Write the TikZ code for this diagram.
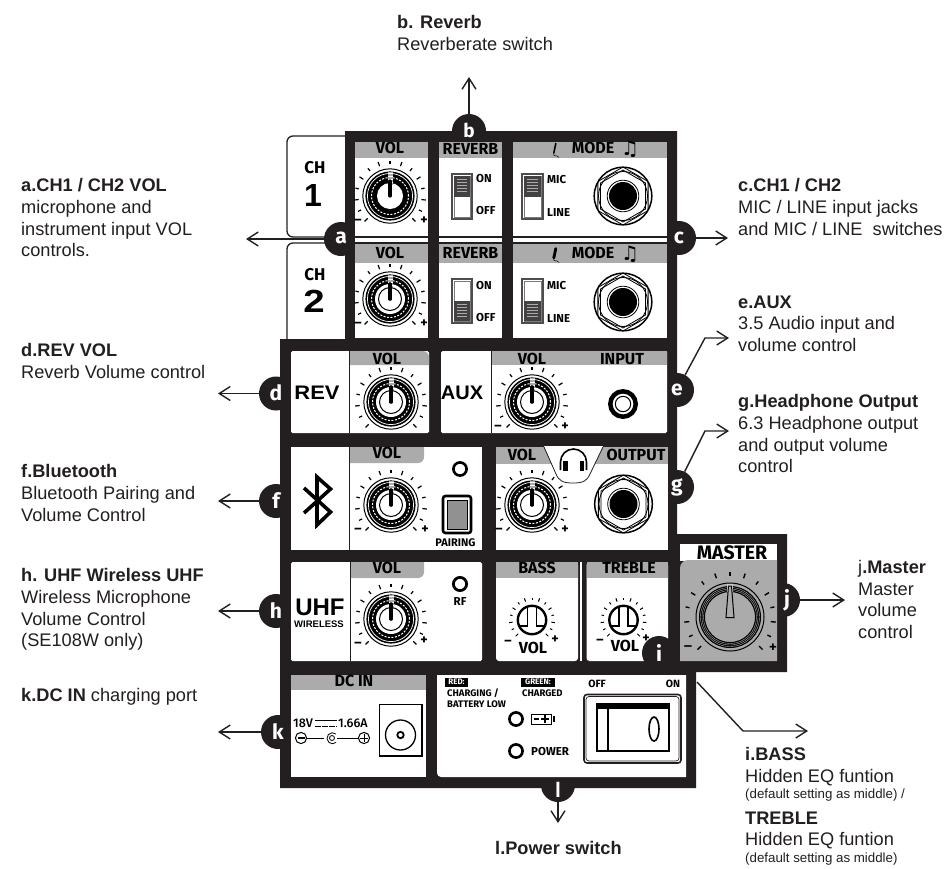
\documentclass[tikz,border=0pt]{standalone}
\usepackage{fontspec}
\usetikzlibrary{arrows.meta}
\setmainfont{Liberation Sans}
\newfontfamily\din{Fira Sans}[UprightFont=* Medium,BoldFont=* Bold]
\newfontfamily\djv{DejaVu Sans}
\definecolor{dk}{HTML}{231F20}
\definecolor{hd}{HTML}{ABABAB}
\tikzset{
  badge/.style={circle,fill=dk,minimum size=34pt,inner sep=0pt},
  bl/.style={inner sep=0pt,text=white,font=\din\bfseries\fontsize{21}{21}\selectfont},
  arr/.style={draw=dk,line width=1.4pt,-{Straight Barb[length=11pt,width=14pt,line width=1.4pt]}},
  lab/.style={anchor=north west,inner sep=0pt,align=left,text=dk,font=\fontsize{18.2}{21.6}\selectfont},
  labs/.style={anchor=north west,inner sep=0pt,align=left,text=dk,font=\fontsize{13.3}{16}\selectfont},
  hdr/.style={inner sep=0pt,text=black,font=\din\bfseries\fontsize{16}{16}\selectfont},
  sm/.style={inner sep=0pt,text=black,font=\din\bfseries\fontsize{11.5}{11.5}\selectfont},
  tiny/.style={inner sep=0pt,text=black,font=\din\bfseries\fontsize{9.5}{9.5}\selectfont},
  pm/.style={inner sep=0pt,text=black,font=\din\bfseries\fontsize{14}{14}\selectfont},
  blk/.style={inner sep=0pt,text=black,font=\bfseries\fontsize{19.6}{19.6}\selectfont},
  pan/.style={fill=white},
  gry/.style={fill=hd},
}
\newcommand{\tickring}[3]{%
  \foreach \ii in {0,...,14}{%
    \pgfmathsetmacro{\aa}{-45+\ii*270/14}%
    \pgfmathtruncatemacro{\odd}{mod(\ii,2)}%
    \ifnum\odd=0
      \draw[black,line width=#3pt] (\aa:#1) -- (\aa:#2);
    \else
      \draw[black,line width=#3pt] (\aa:#1+0.5) -- (\aa:#2-0.5);
    \fi}}
\newcommand{\knobc}[3]{%
  \begin{scope}[shift={(#1,#2)},y=1pt]
    \tickring{31.5}{36}{1.2}
    \draw[black,line width=1pt] (0,0) circle[radius=27.2];
    \fill[black] (0,0) circle[radius=24.6];
    \draw[white,line width=0.7pt] (0,0) circle[radius=22.6];
    \draw[white,line width=1pt,dash pattern=on 2pt off 1.5pt] (0,0) circle[radius=18.5];
    \fill[white] (0,0) circle[radius=#3];
    \fill[hd] (-2.5,11) rectangle (2.5,24.5);
    \foreach \yy in {14,17,20,23}{\draw[white,line width=0.6pt] (-2.5,\yy) -- (2.5,\yy);}
    \draw[black,line width=3.2pt,line cap=round] (0,0) -- (0,15);
  \end{scope}}
\newcommand{\knob}[2]{\knobc{#1}{#2}{13}}
\newcommand{\knobr}[2]{%
  \knobc{#1}{#2}{15}
  \begin{scope}[shift={(#1,#2)},y=1pt]
    \draw[black,line width=1pt] (0,0) circle[radius=11.5];
    \draw[black,line width=3.2pt,line cap=round] (0,0) -- (0,15);
  \end{scope}}
\newcommand{\smallknob}[2]{%
  \begin{scope}[shift={(#1,#2)},y=1pt]
    \tickring{19.5}{23}{1}
    \draw[black,line width=2.4pt,fill=white] (0,0) circle[radius=14.2];
    \draw[black,line width=1.4pt] (-4.5,13) -- (-4.5,-6) -- (-13,-6);
    \draw[black,line width=1.4pt] (4.5,13) -- (4.5,-6) -- (13,-6);
  \end{scope}}
\newcommand{\jack}[2]{%
  \begin{scope}[shift={(#1,#2)},y=1pt]
    \begin{scope}
      \clip (0,0) circle[radius=28.6];
      \draw[black,line width=0.8pt] (90:29)--(30:29)--(-30:29)--(-90:29)--(-150:29)--(150:29)--cycle;
      \draw[black,line width=0.8pt] (90:26)--(30:26)--(-30:26)--(-90:26)--(-150:26)--(150:26)--cycle;
    \end{scope}
    \draw[black,line width=1.5pt] (0,0) circle[radius=28.8];
    \draw[black,line width=0.8pt] (0,0) circle[radius=24.5];
    \draw[black,line width=0.8pt] (0,0) circle[radius=15.8];
    \fill[black] (0,0) circle[radius=14];
  \end{scope}}
\newcommand{\slider}[5]{%
  \fill[white] (#1,#2) rectangle (#3,#4);
  \draw[dk!80,line width=1.5pt] (#1,#2) rectangle (#3,#4);
  \draw[dk!60,line width=0.6pt] (#1+2,#2+2) rectangle (#3-2,#4-2);
  \pgfmathsetmacro{\ym}{(#2+#4)/2}%
  \ifnum#5=0
    \fill[dk!85] (#1+2,#2+2) rectangle (#3-2,\ym);
    \foreach \ff in {0.15,0.3,...,0.9}{\draw[hd,line width=0.8pt] (#1+5,{#2+2+\ff*(\ym-#2-2)}) -- (#3-5,{#2+2+\ff*(\ym-#2-2)});}
  \else
    \fill[dk!85] (#1+2,\ym) rectangle (#3-2,#4-2);
    \foreach \ff in {0.15,0.3,...,0.9}{\draw[hd,line width=0.8pt] (#1+5,{\ym+\ff*(#4-2-\ym)}) -- (#3-5,{\ym+\ff*(#4-2-\ym)});}
  \fi}
\newcommand{\led}[3]{\draw[black,line width=#3pt,fill=white] (#1,#2) circle[radius=6.6];}
\newcommand{\micicon}[3]{%
  \draw[black,line width=#3pt,line cap=round] (#1+0.8,#2-5.5) -- (#1-1.2,#2+4);
  \draw[black,line width=0.5pt] (#1-1.2,#2+4) .. controls (#1-2,#2+9) and (#1+2,#2+5) .. (#1+4,#2+8.5);}
\begin{document}
\begin{tikzpicture}[x=1pt,y=-1pt]
\useasboundingbox (0,0) rectangle (949,868);
\fill[white] (0,0) rectangle (949,868);
% CH tabs
\draw[dk,line width=1.3pt,fill=white,rounded corners=6pt] (346,136) -- (287,136) -- (287,237) -- (346,237);
\draw[dk,line width=1.3pt,fill=white,rounded corners=6pt] (346,243) -- (287,243) -- (287,340);
% frame
\fill[dk] (345,131) -- (677,131) -- (677,534) -- (787,534) -- (787,672) -- (696,672) -- (696,788) -- (280,788) -- (280,339) -- (345,339) -- cycle;
% coordinates for arrows
\coordinate (ta) at (246,239);
\coordinate (tb) at (469,77);
\coordinate (tc) at (728,238);
\coordinate (td) at (218,393.5);
\coordinate (te1) at (705,338);
\coordinate (te) at (729,338);
\coordinate (tf) at (218,501);
\coordinate (tg1) at (705,431);
\coordinate (tg) at (729,431);
\coordinate (th) at (218,611);
\coordinate (tk) at (218,732);
\coordinate (tj) at (845,600);
\coordinate (tl) at (558,823);
\coordinate (ti0) at (697,682);
\coordinate (ti1) at (743,731);
\coordinate (ti) at (808,731);
% badges (the panels lie over them)
\node[badge] (a) at (341,239) {};
\node[badge] (b) at (469,131) {};
\node[badge] (c) at (679,238) {};
\node[badge] (d) at (276,393.5) {};
\node[badge] (e) at (677,390) {};
\node[badge] (f) at (276,501) {};
\node[badge] (g) at (677,487) {};
\node[badge] (h) at (276,611) {};
\node[badge] (j) at (783,600) {};
\node[badge] (k) at (278,732) {};
\node[badge] (l) at (558,785) {};
% connectors
\draw[arr] (a) -- (ta);
\draw[arr] (b) -- (tb);
\draw[arr] (c) -- (tc);
\draw[arr] (d) -- (td);
\draw[arr] (e) -- (te1) -- (te);
\draw[arr] (f) -- (tf);
\draw[arr] (g) -- (tg1) -- (tg);
\draw[arr] (h) -- (th);
\draw[arr] (k) -- (tk);
\draw[arr] (j) -- (tj);
\draw[arr] (l) -- (tl);
\draw[arr] (ti0) -- (ti1) -- (ti);
% panels row 1 and 2
\foreach \xa/\xb in {355/428,439/502,513/667}{
  \fill[pan] (\xa,142) rectangle (\xb,236);
  \fill[pan] (\xa,237.6) rectangle (\xb,241.6);
  \fill[pan] (\xa,244) rectangle (\xb,338);
  \fill[gry] (\xa,142) rectangle (\xb,158);
  \fill[gry] (\xa,244) rectangle (\xb,263);
}
% row 3
\fill[pan,rounded corners=1.5pt] (291,351) rectangle (429,433);
\fill[pan,rounded corners=1.5pt] (441,351) rectangle (667,433);
\fill[gry] (349,351) -- (423,351) arc[start angle=270,end angle=360,radius=6] -- (429,365) -- (349,365) -- cycle;
\fill[gry] (491,351) rectangle (667,365);
\draw[dk,line width=0.7pt] (349.5,351) -- (349.5,433);
\draw[dk,line width=0.7pt] (491,351) -- (491,433);
% row 4
\fill[pan] (291,447) rectangle (482,550);
\fill[pan] (496,447) rectangle (668,550);
\fill[gry] (349,447) -- (424,447) -- (424,457) arc[start angle=0,end angle=90,radius=6] -- (349,463) -- cycle;
\draw[dk,line width=0.7pt] (349.5,447) -- (349.5,550);
\fill[gry] (496,447) rectangle (668,464);
\fill[pan] (544,446) -- (556,474) .. controls (559,481) and (563,483) .. (573,483) .. controls (583,483) and (587,481) .. (590,474) -- (603,446) -- cycle;
\draw[dk,line width=0.8pt] (544,447) -- (556,474) .. controls (559,481) and (563,483) .. (573,483) .. controls (583,483) and (587,481) .. (590,474) -- (603,447);
% row 5
\fill[pan,rounded corners=1.5pt] (291,562) rectangle (482,661);
\fill[gry] (350,562) -- (424,562) -- (424,572) arc[start angle=0,end angle=90,radius=6] -- (350,578) -- cycle;
\draw[dk,line width=0.7pt] (350,562) -- (350,661);
\fill[pan,rounded corners=3pt] (496,562) -- (578,562) -- (578,661) -- (496,661) -- cycle;
\fill[pan,rounded corners=3pt] (586.5,562) -- (668,562) -- (668,661) -- (586.5,661) -- cycle;
\fill[gry] (496,562) rectangle (578,578);
\fill[gry] (586.5,562) rectangle (668,578);
\fill[pan] (580,562) rectangle (581.8,661);
% bottom
\fill[pan] (291,675) rectangle (426,777);
\fill[gry] (291,675) rectangle (426,690);
\fill[pan] (437,675) -- (686,675) -- (686,777) -- (441,777) arc[start angle=90,end angle=180,radius=4] -- cycle;
% master
\fill[pan] (680,544) rectangle (777,561);
\fill[gry] (688,560) -- (777,560) -- (777,661) -- (680,661) -- (680,568) arc[start angle=180,end angle=270,radius=8] -- cycle;
% CH text
\node[inner sep=0pt,font=\din\bfseries\fontsize{17}{17}\selectfont] (ch1a) at (315,168) {CH};
\node[inner sep=0pt,font=\bfseries\fontsize{32}{32}\selectfont] (ch1b) at (313,195) {1};
\node[inner sep=0pt,font=\din\bfseries\fontsize{17}{17}\selectfont] (ch2a) at (315,275) {CH};
\node[inner sep=0pt,font=\bfseries\fontsize{32}{32}\selectfont] (ch2b) at (314,301) {\scalebox{1.2}[1]{2}};
% headers
\node[hdr] (v1) at (390,148) {VOL};
\node[hdr] (r1) at (470.5,149) {REVERB};
\node[hdr] (m1) at (593,148) {MODE};
\node[inner sep=0pt,font=\djv\fontsize{20}{20}\selectfont] (n1) at (630,149) {♫};
\micicon{555}{149}{1.6}
\node[hdr] (v2) at (390,253) {VOL};
\node[hdr] (r2) at (470.5,253) {REVERB};
\node[hdr] (m2) at (593,253) {MODE};
\node[inner sep=0pt,font=\djv\fontsize{20}{20}\selectfont] (n2) at (630,254) {♫};
\micicon{555}{254}{2.8}
\node[hdr] (v3) at (387,359) {VOL};
\node[hdr] (v4) at (532,359) {VOL};
\node[hdr] (inp) at (622,359) {INPUT};
\node[hdr] (v5) at (387,453) {VOL};
\node[hdr] (v6) at (522,455) {VOL};
\node[hdr] (out) at (636,455) {OUTPUT};
\node[hdr] (v7) at (387,568) {VOL};
\node[hdr] (bs) at (537,568) {BASS};
\node[hdr] (tr) at (629,568) {TREBLE};
\node[hdr,font=\din\bfseries\fontsize{19.5}{19.5}\selectfont] (ms) at (732,552.5) {MASTER};
\node[hdr] (dc) at (354,681) {DC IN};
\node[hdr] (bv) at (533,648) {VOL};
\node[hdr] (tv) at (625,646) {VOL};
% knobs
\knob{390}{196}
\knobr{390}{299}
\knobr{391}{402}
\knobr{532}{402}
\knobr{391}{505}
\knobr{532}{505}
\knobr{391}{619}
\smallknob{532}{620}
\smallknob{623.5}{620}
% plus / minus
\foreach \nn/\xx/\yy in {a1/358/222,a2/358/325,a3/498/428,a4/358/531,a5/499/531,a6/358/645,a7/508/643,a8/600/642}{
  \node[pm] (mn\nn) at (\xx,\yy) {–};}
\foreach \nn/\xx/\yy in {b1/424/221,b2/424/324,b3/565/427,b4/425/530,b5/565/530,b6/424/641,b7/555/640,b8/646/639}{
  \node[pm] (pl\nn) at (\xx,\yy) {+};}
% switches and jacks
\slider{452}{174}{472}{219}{0}
\slider{522}{174}{543}{219}{0}
\slider{452}{279}{472}{323}{1}
\slider{522}{279}{543}{323}{1}
\node[sm,anchor=west] (on1) at (476,179) {ON};
\node[sm,anchor=west] (of1) at (476,211) {OFF};
\node[sm,anchor=west] (on2) at (476,286) {ON};
\node[sm,anchor=west] (of2) at (476,318) {OFF};
\node[sm,anchor=west] (mi1) at (547,180) {MIC};
\node[sm,anchor=west] (li1) at (547,213) {LINE};
\node[sm,anchor=west] (mi2) at (547,286) {MIC};
\node[sm,anchor=west] (li2) at (547,319) {LINE};
\jack{623}{196}
\jack{623}{302}
\jack{623.5}{504}
% aux jack
\draw[black,line width=4.5pt,fill=white] (623,404) circle[radius=12.7];
\draw[black,line width=1pt] (623,404) circle[radius=7.7];
% REV AUX UHF
\node[blk] (rev) at (317,393) {\scalebox{1.12}[1]{REV}};
\node[blk] (aux) at (462,393) {\scalebox{1.02}[1]{AUX}};
\node[blk,font=\bfseries\fontsize{24}{24}\selectfont] (uhf) at (320,607) {UHF};
\node[inner sep=0pt,font=\bfseries\fontsize{9.5}{9.5}\selectfont] (wl) at (319,624) {WIRELESS};
% bluetooth
\draw[black,line width=3.6pt,miter limit=10] (304,488) -- (330.5,512) -- (317,525) -- (317,477) -- (330.5,489) -- (304,513);
% leds, pairing
\led{460}{469}{2.6}
\draw[black,line width=2.6pt,fill=white,rounded corners=2.5pt] (443,496) rectangle (471,533);
\fill[hd!85!black] (447,500) rectangle (467,529);
\draw[black,line width=1pt] (447,500) rectangle (467,529);
\node[tiny,font=\din\bfseries\fontsize{11}{11}\selectfont] (par) at (455.5,543) {PAIRING};
\led{460}{584}{2.8}
\node[sm] (rf) at (460,602) {RF};
% headphones
\draw[black,line width=1.6pt] (560.5,470) -- (560.5,462) arc[start angle=180,end angle=360,radius=13] -- (586.5,470);
\fill[black] (563,461) rectangle (567.5,471);
\fill[black] (579.5,461) rectangle (584,471);
% DC
\node[inner sep=0pt,anchor=west,font=\din\fontsize{12.5}{12.5}\selectfont] (dcv) at (293,723) {18V};
\node[inner sep=0pt,anchor=west,font=\din\fontsize{12.5}{12.5}\selectfont] (dca) at (338,723) {1.66A};
\draw[black,line width=0.8pt] (315,720) -- (337,720);
\draw[black,line width=0.8pt,dash pattern=on 6pt off 1pt] (315,726) -- (337,726);
\draw[black,line width=1pt] (301,738) circle[radius=5.6];
\draw[black,line width=2pt] (297.5,738) -- (304.5,738);
\draw[black,line width=1pt] (364,738) circle[radius=5.6];
\draw[black,line width=1pt] (360,738) -- (368,738) (364,734) -- (364,742);
\draw[black,line width=1pt] (307,738) -- (324,738) (337,738) -- (358,738);
\draw[black,line width=0.8pt] (336,734) arc[start angle=-50,end angle=-310,radius=5.5];
\draw[black,line width=0.8pt] (332,738) circle[radius=2.5];
\draw[black,line width=1.6pt,fill=white] (379.5,704.5) rectangle (422,756);
\draw[black,line width=1.3pt] (400.5,735) circle[radius=15];
\draw[black,line width=1.8pt] (400.5,735) circle[radius=3.2];
% power panel
\fill[black] (445,678) rectangle (468,686.5);
\node[inner sep=0pt,text=white,font=\din\bfseries\fontsize{8}{8}\selectfont] (red) at (456.5,682.2) {RED:};
\fill[black] (521,678) rectangle (555,686.5);
\node[inner sep=0pt,text=white,font=\din\bfseries\fontsize{8}{8}\selectfont] (grn) at (538,682.2) {GREEN:};
\node[tiny,anchor=west] (cg) at (447,693) {CHARGING /};
\node[tiny,anchor=west] (bl) at (447,704) {BATTERY LOW};
\node[tiny,anchor=west] (cd) at (522,693) {CHARGED};
\node[sm,font=\din\bfseries\fontsize{10.5}{10.5}\selectfont] (off) at (597,684) {OFF};
\node[sm,font=\din\bfseries\fontsize{10.5}{10.5}\selectfont] (onn) at (673,684) {ON};
\led{516}{719}{2.6}
\led{516}{751}{2.6}
\node[sm,anchor=west] (pw) at (531,751) {POWER};
\draw[black,line width=1pt] (531,714) rectangle (551,724);
\fill[black] (553,716) rectangle (555,722);
\draw[black,line width=1.2pt] (534,719) -- (539,719) (541,719) -- (549,719) (545,715) -- (545,723);
\draw[dk,line width=1.6pt,rounded corners=3pt] (584,694.5) rectangle (681,763);
\draw[dk,line width=0.7pt,rounded corners=3pt] (586,696.5) rectangle (679,761);
\draw[black,line width=2.6pt] (597,704.5) rectangle (669,751);
\fill[black] (597,704) rectangle (669,709);
\draw[black,line width=1.2pt] (608,705) -- (608,750);
\draw[black,line width=1.6pt] (654,729) ellipse[x radius=5,y radius=12];
% master knob
\begin{scope}[shift={(730,617)},y=1pt]
  \tickring{41}{46}{1.4}
  \draw[black,line width=1pt] (0,0) circle[radius=34];
  \draw[black,line width=6pt] (0,0) circle[radius=28];
  \draw[hd,line width=0.4pt] (0,0) circle[radius=26.5] (0,0) circle[radius=28] (0,0) circle[radius=29.5];
  \fill[hd!60] (-3,25) rectangle (3,33);
  \draw[black,line width=1pt,fill=hd] (-4,-0.5) -- (4,-0.5) -- (1.5,31) -- (-1.5,31) -- cycle;
\end{scope}
\node[pm,font=\din\fontsize{16}{16}\selectfont] (mm) at (688,649) {–};
\node[pm,font=\din\fontsize{16}{16}\selectfont] (mp) at (773,648) {+};
% badge i and badge letters
\node[badge,text=white,font=\din\bfseries\fontsize{21}{21}\selectfont] (i) at (659,653) {i};
\node[bl] (ba) at (341,238) {a};
\node[bl,font=\din\bfseries\fontsize{19}{19}\selectfont] (bb) at (469,130.5) {b};
\node[bl] (bc) at (679,238) {c};
\node[bl] (bd) at (276,393) {d};
\node[bl] (be) at (677,390) {e};
\node[bl] (bf) at (276,501) {f};
\node[bl] (bg) at (677,487) {g};
\node[bl] (bh) at (276,611) {h};
\node[bl] (bj) at (787,600) {j};
\node[bl] (bk) at (278,732) {k};
\node[bl,font=\bfseries\fontsize{21}{21}\selectfont] (bbl) at (558,789.5) {l};
% labels
\node[lab] (lb) at (397,15.5) {\textbf{b. Reverb}\\Reverberate switch};
\node[lab] (la) at (21,178.5) {\textbf{a.CH1 / CH2 VOL}\\microphone and\\instrument input VOL\\controls.};
\node[lab] (lc) at (738,178.5) {\textbf{c.CH1 / CH2}\\MIC / LINE input jacks\\and MIC / LINE~ switches};
\node[lab] (ld) at (21,343.5) {\textbf{d.REV VOL}\\Reverb Volume control};
\node[lab] (le) at (738,295.5) {\textbf{e.AUX}\\3.5 Audio input and\\volume control};
\node[lab] (lf) at (21,464.5) {\textbf{f.Bluetooth}\\Bluetooth Pairing and\\Volume Control};
\node[lab] (lg) at (738,394.5) {\textbf{g.Headphone Output}\\6.3 Headphone output\\and output volume\\control};
\node[lab] (lh) at (21,568.5) {\textbf{h. UHF Wireless UHF}\\Wireless Microphone\\Volume Control\\(SE108W only)};
\node[lab] (lj) at (858,560) {j\textbf{.Master}\\Master\\volume\\control};
\node[lab] (lk) at (21,688.5) {\textbf{k.DC IN} charging port};
\node[lab] (li) at (745,747.5) {\textbf{i.BASS}\\Hidden EQ funtion};
\node[labs] (lis) at (745,789) {(default setting as middle) /};
\node[lab] (lt) at (745,811.5) {\textbf{TREBLE}\\Hidden EQ funtion};
\node[labs] (lts) at (745,853) {(default setting as middle)};
\node[lab] (ll) at (495,841) {\textbf{l.Power switch}};
\end{tikzpicture}
\end{document}
